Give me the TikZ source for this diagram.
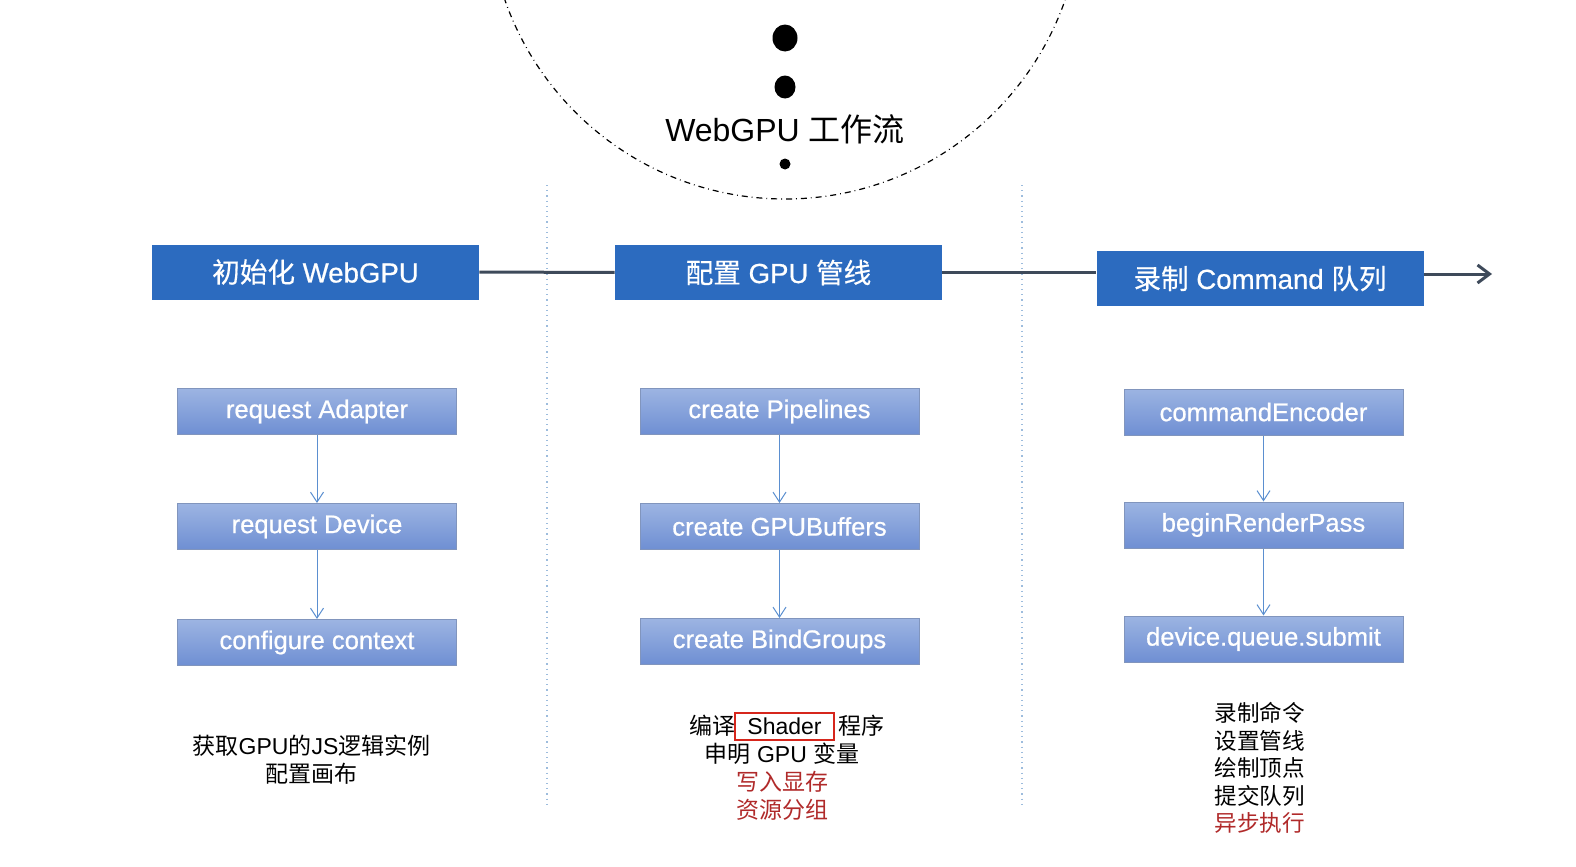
\documentclass[tikz,border=0pt]{standalone}
\usepackage{fontspec}
\setmainfont{Liberation Sans}
\newfontfamily\cjk{Noto Sans CJK SC}
\newfontfamily\medlatin{Liberation Sans}[FakeBold=0.7]
\newfontfamily\medcjk{Noto Sans CJK SC}[FakeBold=0.5]
\usetikzlibrary{arrows.meta,positioning}
\definecolor{stageblue}{HTML}{2C6BBF}
\definecolor{tasktop}{HTML}{9CB4E2}
\definecolor{taskbottom}{HTML}{6F8FD3}
\definecolor{taskedge}{HTML}{8195BD}
\definecolor{arrowblue}{HTML}{5B8FD0}
\definecolor{flowgray}{HTML}{3E4A5A}
\definecolor{dividerblue}{HTML}{9DBCDD}
\definecolor{notered}{HTML}{B02A2A}
\definecolor{shaderred}{HTML}{D6261C}

\begin{document}
\begin{tikzpicture}[
    x=0.5pt, y=-0.5pt,
    node distance=57.5pt,
    stage/.style={rectangle, fill=stageblue, text=white, minimum width=163.5pt, minimum height=27.5pt, inner sep=0pt, font=\fontsize{13.8}{16}\selectfont\medlatin},
    task/.style={rectangle, draw=taskedge, line width=0.5pt, top color=tasktop, bottom color=taskbottom, text=white, minimum width=139.5pt, minimum height=23pt, inner sep=0pt, font=\fontsize{12.8}{15}\selectfont\medlatin},
    arrow/.style={-{Straight Barb[length=5pt,width=6.5pt]}, draw=arrowblue, line width=0.5pt},
    flow/.style={draw=flowgray, line width=1.5pt},
    note/.style={inner sep=0pt, align=center, font=\fontsize{11.5}{13.7}\selectfont},
    shaderbox/.style={rectangle, draw=shaderred, line width=1pt, minimum width=49.5pt, minimum height=13.5pt, inner sep=0pt, font=\fontsize{11.5}{13.7}\selectfont},
    divider/.style={draw=dividerblue, dotted, line width=0.6pt}
]
    \useasboundingbox (0,0) rectangle (1576,867);
    % Title circle
    \begin{scope}
        \clip (0,0) rectangle (1576,867);
        \draw[dash dot, line width=0.6pt] (785,-97.5) circle[radius=296.5];
    \end{scope}
    \fill (785,38) circle[x radius=12.5, y radius=13.5];
    \fill (785,87) circle[x radius=10.5, y radius=11.5];
    \fill (785,164) circle[radius=5.5];
    \node[font=\fontsize{16}{18}\selectfont] (title) at (785,129) {WebGPU {\cjk 工作流}};
    % Dividers
    \draw[divider] (547,185) -- (547,806);
    \draw[divider] (1022,185) -- (1022,806);
    % Stages
    \node[stage] (init) at (315.5,272) {{\medcjk 初始化} WebGPU};
    \node[stage] (pipe) at (778.5,272.5) {{\medcjk 配置} GPU {\medcjk 管线}};
    \node[stage] (record) at (1260,278.5) {{\medcjk 录制} Command {\medcjk 队列}};
    \coordinate (flowend) at (1492,274);
    \draw[flow] (init) -- (pipe);
    \draw[flow] (pipe.east) -- (pipe.east -| record.west);
    \draw[flow, -{Straight Barb[length=6pt,width=9pt]}] (record.east |- flowend) -- (flowend);
    % Tasks
    \node[task] (adapter) at (317,411.5) {request Adapter};
    \node[task, below of=adapter] (device) {request Device};
    \node[task, below of=device, yshift=-0.5pt] (context) {configure context};
    \node[task] (pipelines) at (779.5,411.5) {create Pipelines};
    \node[task, below of=pipelines] (buffers) {create GPUBuffers};
    \node[task, below of=buffers] (bindgroups) {create BindGroups};
    \node[task] (encoder) at (1263.5,412) {commandEncoder};
    \node[task, below of=encoder, yshift=1pt] (renderpass) {beginRenderPass};
    \node[task, below of=renderpass, yshift=0.5pt] (submit) {device.queue.submit};
    % Arrows
    \draw[arrow] (adapter) -- (device);
    \draw[arrow] (device) -- (context);
    \draw[arrow] (pipelines) -- (buffers);
    \draw[arrow] (buffers) -- (bindgroups);
    \draw[arrow] (encoder) -- (renderpass);
    \draw[arrow] (renderpass) -- (submit);
    % Notes
    \node[note] (initnote) at (311.5,759.5) {{\cjk 获取}GPU{\cjk 的}JS{\cjk 逻辑实例}\\{\cjk 配置画布}};
    \node[shaderbox] (shader) at (784.5,726) {Shader};
    \node[note, anchor=base east] (compile) at ([xshift=1pt]shader.base west) {\cjk 编译};
    \node[note, anchor=base west] (program) at ([xshift=1.5pt]shader.base east) {\cjk 程序};
    \node[note] (declare) at (782,754) {{\cjk 申明} GPU {\cjk 变量}};
    \node[note, text=notered] (upload) at (782,782) {\cjk 写入显存};
    \node[note, text=notered] (grouping) at (782,810) {\cjk 资源分组};
    \node[note, align=left, anchor=west, font=\fontsize{11.3}{13.75}\selectfont\cjk] (cmdnote) at (1214,768) {录制命令\\设置管线\\绘制顶点\\提交队列\\\textcolor{notered}{异步执行}};
\end{tikzpicture}
\end{document}
